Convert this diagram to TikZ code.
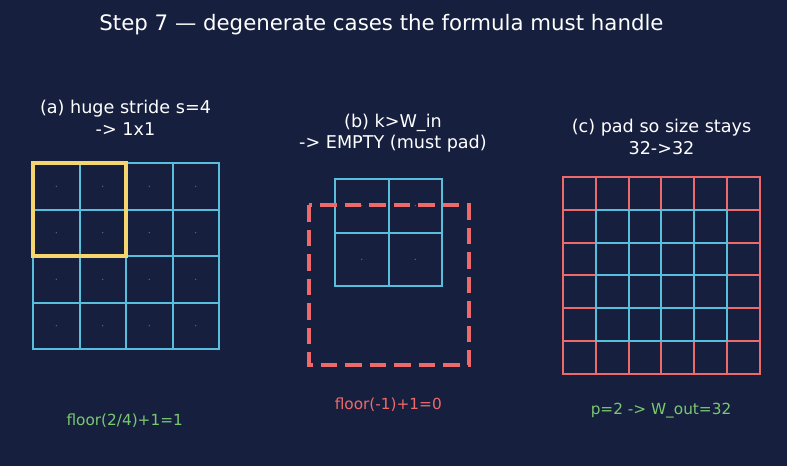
\documentclass[tikz,border=0pt]{standalone}
\usepackage{fontspec}
\setmainfont{DejaVu Sans}
\definecolor{bg}{RGB}{22,32,62}
\definecolor{gridblue}{RGB}{88,190,220}
\definecolor{gridred}{RGB}{238,106,106}
\definecolor{hiyellow}{RGB}{245,214,110}
\definecolor{txtgreen}{RGB}{122,200,112}
\definecolor{txtred}{RGB}{238,106,106}
\definecolor{dotc}{RGB}{110,120,140}
\begin{document}
\begin{tikzpicture}[x=1pt,y=-1pt,
  titletext/.style={text=white,inner sep=0pt,anchor=base,font=\fontsize{21.3}{25}\selectfont},
  paneltext/.style={text=white,inner sep=0pt,anchor=base,align=center,font=\fontsize{17.6}{21.5}\selectfont},
  notetext/.style={inner sep=0pt,anchor=base,font=\fontsize{15.3}{18}\selectfont},
  bluegrid/.style={draw=gridblue,line width=2pt,line cap=rect},
  redgrid/.style={draw=gridred,line width=2pt,line cap=rect},
  hibox/.style={draw=hiyellow,line width=4.2pt},
  padbox/.style={draw=gridred,line width=4.2pt,dash pattern=on 16.5pt off 8pt},
  celldot/.style={fill=dotc}]
\fill[bg] (0,0) rectangle (787,466);
\useasboundingbox (0,0) rectangle (787,466);

\node[titletext] (title) at (381.5,30) {Step 7 — degenerate cases the formula must handle};

% (a)
\node[paneltext] (la) at (125.5,135) {(a) huge stride s=4\\-> 1x1};
\foreach \i in {0,...,4} {
  \draw[bluegrid] (33+\i*46.5,163) -- (33+\i*46.5,349);
  \draw[bluegrid] (33,163+\i*46.5) -- (219,163+\i*46.5);
}
\foreach \i in {0,...,3} \foreach \j in {0,...,3}
  \fill[celldot] (33+23.25+\i*46.5,163+23.25+\j*46.5) circle (0.6);
\draw[hibox] (33,163) rectangle (126,256);
\node[notetext,text=txtgreen] (na) at (124.7,425) {floor(2/4)+1=1};

% (b)
\node[paneltext] (lb) at (393,148.5) {(b) k>W\_in\\-> EMPTY (must pad)};
\foreach \i in {0,...,2} {
  \draw[bluegrid] (335+\i*53.5,179) -- (335+\i*53.5,286);
  \draw[bluegrid] (335,179+\i*53.5) -- (442,179+\i*53.5);
}
\foreach \i in {0,...,1} \foreach \j in {0,...,1}
  \fill[celldot] (335+26.75+\i*53.5,179+26.75+\j*53.5) circle (0.6);
\draw[padbox] (309,205) rectangle (469,365);
\node[notetext,text=txtred] (nb) at (388.3,409) {floor(-1)+1=0};

% (c)
\node[paneltext] (lc) at (661.5,154.3) {(c) pad so size stays\\32->32};
\foreach \i in {0,...,6} {
  \draw[redgrid] (563+\i*32.83,177) -- (563+\i*32.83,374);
  \draw[redgrid] (563,177+\i*32.83) -- (760,177+\i*32.83);
}
\foreach \i in {1,...,5} {
  \draw[bluegrid] (563+\i*32.83,209.83) -- (563+\i*32.83,341.15);
  \draw[bluegrid] (595.83,177+\i*32.83) -- (727.15,177+\i*32.83);
}
\node[notetext,text=txtgreen] (nc) at (661,414) {p=2 -> W\_out=32};
\end{tikzpicture}
\end{document}
